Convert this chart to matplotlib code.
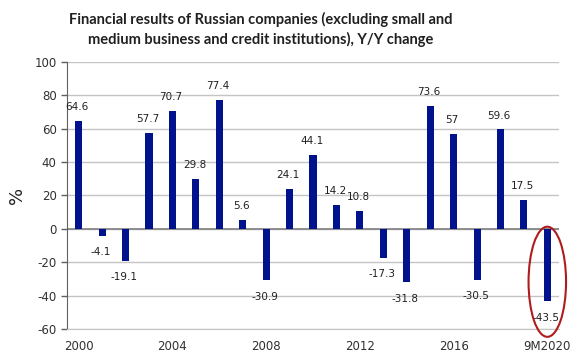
import matplotlib.pyplot as plt
from matplotlib.patches import Ellipse

plt.rcParams['axes.unicode_minus'] = False

years = list(range(2000, 2021))
values = [64.6, -4.1, -19.1, 57.7, 70.7, 29.8, 77.4, 5.6, -30.9, 24.1, 44.1,
          14.2, 10.8, -17.3, -31.8, 73.6, 57, -30.5, 59.6, 17.5, -43.5]
value_labels = ['64.6', '-4.1', '-19.1', '57.7', '70.7', '29.8', '77.4', '5.6', '-30.9',
                '24.1', '44.1', '14.2', '10.8', '-17.3', '-31.8', '73.6', '57', '-30.5',
                '59.6', '17.5', '-43.5']
tick_pos = [0, 4, 8, 12, 16, 20]
tick_labels = ['2000', '2004', '2008', '2012', '2016', '9M2020']

fig = plt.figure(figsize=(5.85, 3.62), dpi=100)
ax = fig.add_axes([0.1145, 0.0912, 0.8411, 0.7375])

x = list(range(len(years)))
ax.bar(x, values, width=0.3, color='#00128c', zorder=3)

# data labels
for i, (v, lab) in enumerate(zip(values, value_labels)):
    off = 10 if v >= 0 else -12
    ax.annotate(lab, (i, v), xytext=(-1, off), textcoords='offset points',
                ha='center', va='center', fontsize=7.5, color='#202020',
                family='DejaVu Sans')

ax.set_xlim(-0.5, 20.5)
ax.set_ylim(-60, 100)
ax.set_yticks(range(-60, 101, 20))
ax.grid(axis='y', color='#c4c4c4', linewidth=1, zorder=0)
ax.axhline(0, color='#808080', linewidth=1.2, zorder=2)

ax.set_xticks(tick_pos)
ax.set_xticklabels(tick_labels)
ax.tick_params(axis='x', length=0, pad=8, labelsize=8.5, labelcolor='#303030')
ax.tick_params(axis='y', length=4, width=1, color='#606060', labelsize=8.5,
               labelcolor='#303030', direction='out')

for s in ['top', 'right']:
    ax.spines[s].set_visible(False)
ax.spines['left'].set_color('#606060')
ax.spines['bottom'].set_color('#c4c4c4')

ax.set_ylabel('%', fontsize=13, color='#202020', labelpad=6)

# red ellipse around the last bar
ell = Ellipse((20, -31.7), 1.6, 66, fill=False, edgecolor='#b01c1c',
              linewidth=1.5, clip_on=False, zorder=4)
ax.add_patch(ell)

fig.text(0.446, 0.918, 'Financial results of Russian companies (excluding small and\n'
         'medium business and credit institutions), Y/Y change',
         ha='center', va='center', fontsize=10.5, fontweight='bold',
         family='Lato', color='#202020', linespacing=1.45)

fig.savefig('out.png', dpi=100)
